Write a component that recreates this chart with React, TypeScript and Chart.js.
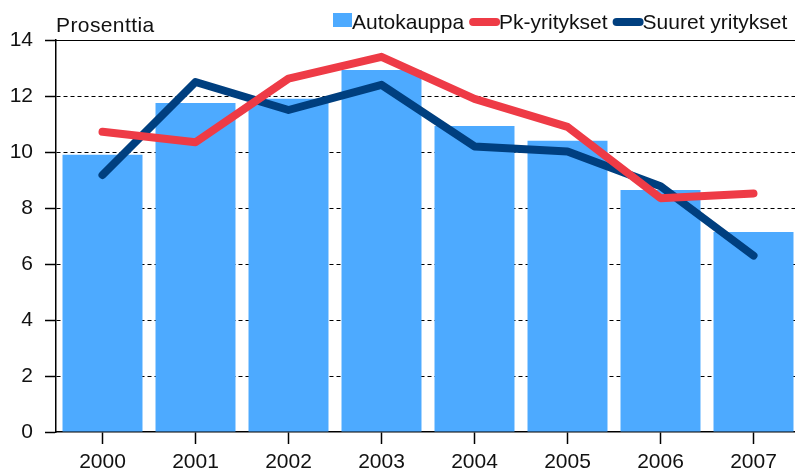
import React, { useEffect, useRef } from "react";
import { Chart, registerables } from "chart.js";

Chart.register(...registerables);

const years = ["2000", "2001", "2002", "2003", "2004", "2005", "2006", "2007"];
const autokauppa = [9.9, 11.75, 11.9, 12.93, 10.93, 10.4, 8.64, 7.14];
const pkYritykset = [10.72, 10.35, 12.62, 13.4, 11.9, 10.9, 8.35, 8.52];
const suuretYritykset = [9.18, 12.5, 11.5, 12.4, 10.2, 10.02, 8.78, 6.3];
const yTicks = [0, 2, 4, 6, 8, 10, 12, 14];

const FONT = '"Liberation Sans", Arial, sans-serif';
const BAR = "#4DAAFF";
const RED = "#EE3B46";
const NAVY = "#003F7F";

const decorPlugin = {
  id: "decor",
  beforeDatasetsDraw(chart: any) {
    const { ctx, chartArea } = chart;
    ctx.save();
    ctx.strokeStyle = "#000";
    ctx.lineWidth = 1;
    ctx.beginPath();
    ctx.moveTo(chartArea.left, Math.round(chartArea.top) + 0.5);
    ctx.lineTo(chartArea.right, Math.round(chartArea.top) + 0.5);
    ctx.stroke();
    ctx.restore();
  },
  afterDraw(chart: any) {
    const { ctx } = chart;
    ctx.save();
    ctx.font = `21px ${FONT}`;
    ctx.fillStyle = "#111";
    ctx.textBaseline = "alphabetic";
    ctx.textAlign = "left";
    try {
      (ctx as any).letterSpacing = "0.4px";
    } catch (e) {}
    ctx.fillText("Prosenttia", 56, 32);

    const items = [
      { label: "Autokauppa", color: BAR, kind: "box" },
      { label: "Pk-yritykset", color: RED, kind: "line" },
      { label: "Suuret yritykset", color: NAVY, kind: "line" },
    ];
    let x = 333;
    const base = 29;
    try {
      (ctx as any).letterSpacing = "0px";
    } catch (e) {}
    items.forEach((it) => {
      if (it.kind === "box") {
        ctx.fillStyle = it.color;
        ctx.fillRect(x, 13, 19, 14);
        x += 19;
      } else {
        ctx.strokeStyle = it.color;
        ctx.lineWidth = 8;
        ctx.lineCap = "round";
        ctx.beginPath();
        ctx.moveTo(x + 3, 22);
        ctx.lineTo(x + 26, 22);
        ctx.stroke();
        x += 29;
      }
      ctx.fillStyle = "#111";
      ctx.fillText(it.label, x, base);
      x += ctx.measureText(it.label).width + 6;
    });
    ctx.restore();
  },
};

export default function App() {
  const ref = useRef<HTMLCanvasElement | null>(null);

  useEffect(() => {
    if (!ref.current) return;
    const chart = new Chart(ref.current, {
      type: "bar",
      data: {
        labels: years,
        datasets: [
          {
            type: "line",
            label: "Pk-yritykset",
            data: pkYritykset,
            borderColor: RED,
            backgroundColor: RED,
            borderWidth: 8,
            pointRadius: 0,
            tension: 0,
            borderCapStyle: "round",
            borderJoinStyle: "round",
            order: 0,
          } as any,
          {
            type: "line",
            label: "Suuret yritykset",
            data: suuretYritykset,
            borderColor: NAVY,
            backgroundColor: NAVY,
            borderWidth: 8,
            pointRadius: 0,
            tension: 0,
            borderCapStyle: "round",
            borderJoinStyle: "round",
            order: 1,
          } as any,
          {
            type: "bar",
            label: "Autokauppa",
            data: autokauppa,
            backgroundColor: BAR,
            borderWidth: 0,
            barPercentage: 0.86,
            categoryPercentage: 1,
            order: 2,
          },
        ],
      },
      options: {
        responsive: false,
        animation: false,
        layout: { padding: { top: 40, left: 0, right: 0, bottom: 0 } },
        plugins: {
          legend: { display: false },
          title: { display: false },
          tooltip: { enabled: false },
        },
        scales: {
          x: {
            offset: true,
            grid: {
              offset: false,
              drawOnChartArea: false,
              drawTicks: true,
              tickLength: 12,
              tickColor: "#000",
              tickWidth: 1.5,
            },
            border: { display: true, color: "#000", width: 1.5 },
            ticks: {
              color: "#111",
              font: { family: FONT, size: 21 },
              padding: 6,
              maxRotation: 0,
              autoSkip: false,
            },
            afterFit: (s: any) => {
              s.height = 38;
            },
          },
          y: {
            min: 0,
            max: 14,
            afterBuildTicks: (s: any) => {
              s.ticks = yTicks.map((v) => ({ value: v }));
            },
            grid: {
              color: (c: any) =>
                c.tick && (c.tick.value === 0 || c.tick.value === 14)
                  ? "rgba(0,0,0,0)"
                  : "#000",
              lineWidth: 1,
              drawTicks: true,
              tickLength: 11,
              tickColor: "#000",
              tickWidth: 1.5,
            },
            border: { display: true, color: "#000", width: 1.5, dash: [4, 3] },
            ticks: {
              color: "#111",
              font: { family: FONT, size: 21 },
              padding: 12,
            },
            afterFit: (s: any) => {
              s.width = 56;
            },
          },
        },
      },
      plugins: [decorPlugin],
    });
    return () => chart.destroy();
  }, []);

  return (
    <div
      style={{
        position: "fixed",
        left: 0,
        top: 0,
        width: 795,
        height: 470,
        overflow: "hidden",
        background: "#fff",
      }}
    >
      <canvas ref={ref} width={800} height={470} style={{ display: "block" }} />
    </div>
  );
}
